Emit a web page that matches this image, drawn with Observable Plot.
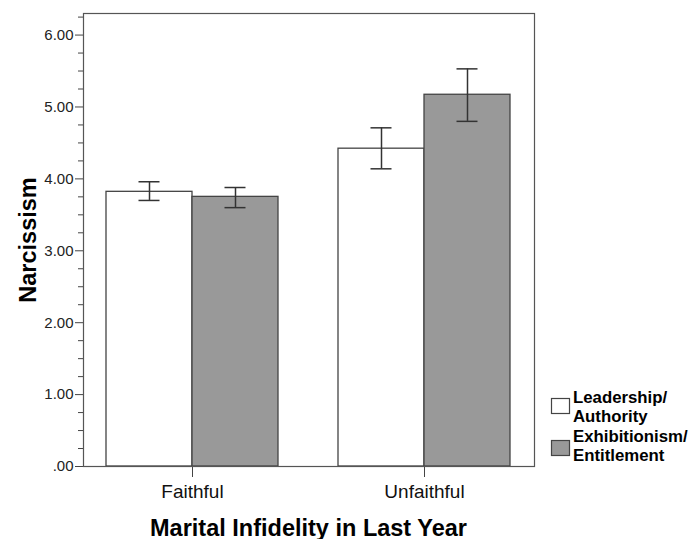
<!DOCTYPE html>
<html>
<head>
<meta charset="utf-8">
<script src="https://cdn.jsdelivr.net/npm/d3@7"></script>
<script src="https://cdn.jsdelivr.net/npm/@observablehq/plot@0.6"></script>
<style>
  body { margin: 0; background: #fff; }
  #chart svg { display: block; }
  g[aria-label="y-axis label"], g[aria-label="y-axis label"] text,
  g[aria-label="fx-axis label"], g[aria-label="fx-axis label"] text {
    font-size: 23.5px; font-weight: bold; fill: #000;
  }
</style>
</head>
<body>
<div id="chart"></div>
<script>
const categories = ["Faithful", "Unfaithful"];
const series = ["Leadership/Authority", "Exhibitionism/Entitlement"];
const legendLines = [["Leadership/", "Authority"], ["Exhibitionism/", "Entitlement"]];
const leadershipMean = [3.82, 4.42];
const leadershipLo = [3.70, 4.14];
const leadershipHi = [3.96, 4.71];
const exhibMean = [3.75, 5.17];
const exhibLo = [3.60, 4.80];
const exhibHi = [3.88, 5.53];
const majorTicks = [0, 1, 2, 3, 4, 5, 6];
const minorTicks = [0.25, 0.5, 0.75, 1.25, 1.5, 1.75, 2.25, 2.5, 2.75, 3.25, 3.5, 3.75, 4.25, 4.5, 4.75, 5.25, 5.5, 5.75, 6.25];
const colors = ["#ffffff", "#999999"];

const table = categories.flatMap((c, i) => [
  {category: c, series: series[0], mean: leadershipMean[i], lo: leadershipLo[i], hi: leadershipHi[i]},
  {category: c, series: series[1], mean: exhibMean[i], lo: exhibLo[i], hi: exhibHi[i]}
]);

const W = 698, H = 539, ML = 83, MR = 164, MT = 13, MB = 73;
const font = "'Liberation Sans', Arial, sans-serif";

const chart = Plot.plot({
  width: W, height: H,
  marginLeft: ML, marginRight: MR, marginTop: MT, marginBottom: MB,
  style: {fontFamily: font, color: "#222", background: "white"},
  fx: {domain: categories, paddingInner: 0.06, paddingOuter: 0},
  x: {domain: series, padding: 0, insetLeft: 23, insetRight: 23, axis: null},
  y: {domain: [0, 6.3]},
  color: {domain: series, range: colors},
  marks: [
    Plot.barY(table, {fx: "category", x: "series", y: "mean", fill: "series", stroke: "#444", strokeWidth: 1.3}),
    Plot.ruleX(table, {fx: "category", x: "series", y1: "lo", y2: "hi", stroke: "#333", strokeWidth: 1.5}),
    Plot.tickY(table, {fx: "category", x: "series", y: "lo", insetLeft: 32.5, insetRight: 32.5, stroke: "#333", strokeWidth: 1.5}),
    Plot.tickY(table, {fx: "category", x: "series", y: "hi", insetLeft: 32.5, insetRight: 32.5, stroke: "#333", strokeWidth: 1.5}),
    Plot.axisY({ticks: majorTicks, tickFormat: d => d === 0 ? ".00" : d.toFixed(2), tickSize: 8, tickPadding: 2, fontSize: 15,
      label: "Narcissism", labelAnchor: "center", labelOffset: 64, labelArrow: "none", stroke: "#444"}),
    Plot.axisY({ticks: minorTicks, tickSize: 5, tickFormat: () => "", label: null, stroke: "#444"}),
    Plot.axisFx({anchor: "bottom", tickSize: 11, tickPadding: 7, fontSize: 19, fill: "#111",
      label: "Marital Infidelity in Last Year", labelAnchor: "center", labelOffset: 69, labelArrow: "none", stroke: "#444"})
  ]
});

document.getElementById("chart").appendChild(chart);

const svg = d3.select(chart);
svg.append("rect")
  .attr("x", ML + 0.5).attr("y", MT + 0.5)
  .attr("width", W - ML - MR).attr("height", H - MT - MB)
  .attr("fill", "none").attr("stroke", "#555").attr("stroke-width", 1.2);

const lg = svg.append("g").attr("font-family", font).attr("font-weight", "bold").attr("font-size", 16.8)
  .attr("fill", "#000").attr("text-anchor", "start");
const swatchY = [398.5, 440.5];
const firstBaseline = [403, 442];
series.forEach((s, i) => {
  lg.append("rect").attr("x", 551.5).attr("y", swatchY[i]).attr("width", 18).attr("height", 15)
    .attr("fill", colors[i]).attr("stroke", "#444").attr("stroke-width", 1.2);
  const t = lg.append("text").attr("x", 573).attr("y", firstBaseline[i]);
  legendLines[i].forEach((line, j) => {
    t.append("tspan").attr("x", 573).attr("dy", j === 0 ? 0 : 19).text(line);
  });
});
</script>
</body>
</html>
